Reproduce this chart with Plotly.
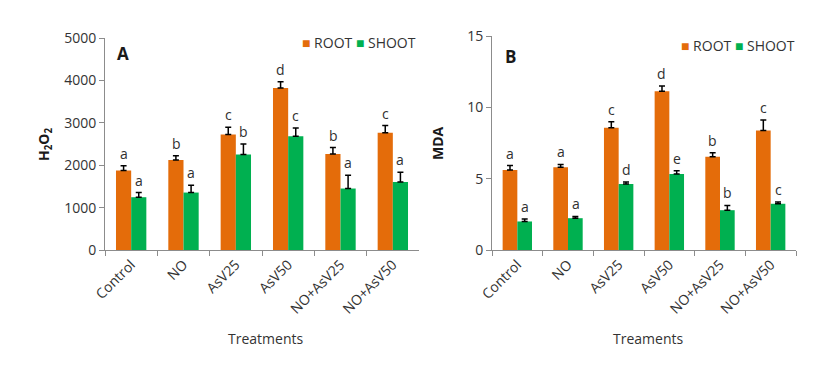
import plotly.graph_objects as go

treatments = ["Control", "NO", "AsV25", "AsV50", "NO+AsV25", "NO+AsV50"]

# panel A - H2O2
h2o2_root = [1875, 2125, 2725, 3820, 2265, 2765]
h2o2_root_err = [110, 95, 170, 150, 150, 170]
h2o2_shoot = [1245, 1355, 2255, 2680, 1450, 1605]
h2o2_shoot_err = [110, 170, 245, 195, 315, 230]
h2o2_root_lbl = ["a", "b", "c", "d", "b", "c"]
h2o2_shoot_lbl = ["a", "a", "b", "c", "a", "a"]

# panel B - MDA
mda_root = [5.6, 5.8, 8.57, 11.13, 6.53, 8.38]
mda_root_err = [0.32, 0.2, 0.42, 0.37, 0.28, 0.73]
mda_shoot = [2.0, 2.23, 4.62, 5.33, 2.79, 3.24]
mda_shoot_err = [0.18, 0.12, 0.15, 0.23, 0.33, 0.12]
mda_root_lbl = ["a", "a", "c", "d", "b", "c"]
mda_shoot_lbl = ["a", "a", "d", "e", "b", "c"]

ORANGE = "#E46C0A"
GREEN = "#00B050"
FONT = "Open Sans"
# page body has an 8px margin, so the figure is a bit smaller than the window
OFF = 8
W, H = 826 - OFF, 365 - OFF


def px(x, y):
    # window pixel -> paper fraction
    return (x - OFF) / W, 1 - (y - OFF) / H


fig = go.Figure()

panels = [
    ("x", "y", h2o2_root, h2o2_root_err, h2o2_shoot, h2o2_shoot_err, h2o2_root_lbl, h2o2_shoot_lbl),
    ("x2", "y2", mda_root, mda_root_err, mda_shoot, mda_shoot_err, mda_root_lbl, mda_shoot_lbl),
]

for xa, ya, root, rerr, shoot, serr, rl, sl in panels:
    for name, vals, err, col in [("ROOT", root, rerr, ORANGE), ("SHOOT", shoot, serr, GREEN)]:
        fig.add_trace(go.Bar(
            x=treatments, y=vals, name=name, marker=dict(color=col, line=dict(width=0)),
            error_y=dict(type="data", array=err, arrayminus=[0] * len(err), symmetric=False,
                         color="black", thickness=1.5, width=3),
            xaxis=xa, yaxis=ya, showlegend=False,
        ))
    # significance letters above error bars
    for vals, err, lbls, shift in [(root, rerr, rl, -7.5), (shoot, serr, sl, 7.5)]:
        for t, v, e, l in zip(treatments, vals, err, lbls):
            fig.add_annotation(x=t, y=v + e, text=l, xref=xa, yref=ya, showarrow=False,
                               xshift=shift, yshift=1, yanchor="bottom",
                               font=dict(family=FONT, size=14, color="#303030"))

axis_common = dict(showline=True, linecolor="#8c8c8c", linewidth=1, ticks="outside",
                   tickcolor="#8c8c8c", ticklen=5, showgrid=False, zeroline=False,
                   automargin=False)

xa0, ya0 = px(105, 250)
xa1, ya1 = px(419, 38)
xb0, yb0 = px(492, 250)
xb1, yb1 = px(796, 36)

fig.update_layout(
    width=W, height=H, margin=dict(l=0, r=0, t=0, b=0, autoexpand=False),
    plot_bgcolor="white", paper_bgcolor="white",
    barmode="group", bargap=0.42, bargroupgap=0, showlegend=False,
    font=dict(family=FONT, size=13, color="#333333"),
    xaxis=dict(domain=[xa0, xa1], anchor="y", type="category", tickson="boundaries",
               tickangle=-45, tickfont=dict(size=14, color="#333333"), **axis_common),
    yaxis=dict(domain=[ya0, ya1], anchor="x", range=[0, 5000], dtick=1000,
               tickfont=dict(size=14, color="#333333"), **axis_common),
    xaxis2=dict(domain=[xb0, xb1], anchor="y2", type="category", tickson="boundaries",
                tickangle=-45, tickfont=dict(size=14, color="#333333"), **axis_common),
    yaxis2=dict(domain=[yb0, yb1], anchor="x2", range=[0, 15], dtick=5,
                tickfont=dict(size=14, color="#333333"), **axis_common),
)

# legends (drawn as text so the swatch/label spacing matches)
legend_txt = (f"<span style='color:{ORANGE}'>■</span> ROOT "
              f"<span style='color:{GREEN}'>■</span> SHOOT")

# panel letters, legends and axis titles
for txt, x, y, size, ang in [
    ("<b>A</b>", 123, 54, 17, 0),
    ("<b>B</b>", 510, 57, 17, 0),
    (legend_txt, 359, 43, 14, 0),
    (legend_txt, 738, 46, 14, 0),
    ("<b>H<sub>2</sub>O<sub>2</sub></b>", 44, 145, 14, -90),
    ("<b>MDA</b>", 437, 143, 14, -90),
    ("Treatments", 265, 338, 14, 0),
    ("Treaments", 648, 338, 14, 0),
]:
    ax, ay = px(x, y)
    fig.add_annotation(x=ax, y=ay, xref="paper", yref="paper", text=txt, showarrow=False,
                       textangle=ang, xanchor="center", yanchor="middle",
                       font=dict(family=FONT, size=size, color="#1a1a1a" if "<b>" in txt else "#333333"))

fig.write_html("out.html")
